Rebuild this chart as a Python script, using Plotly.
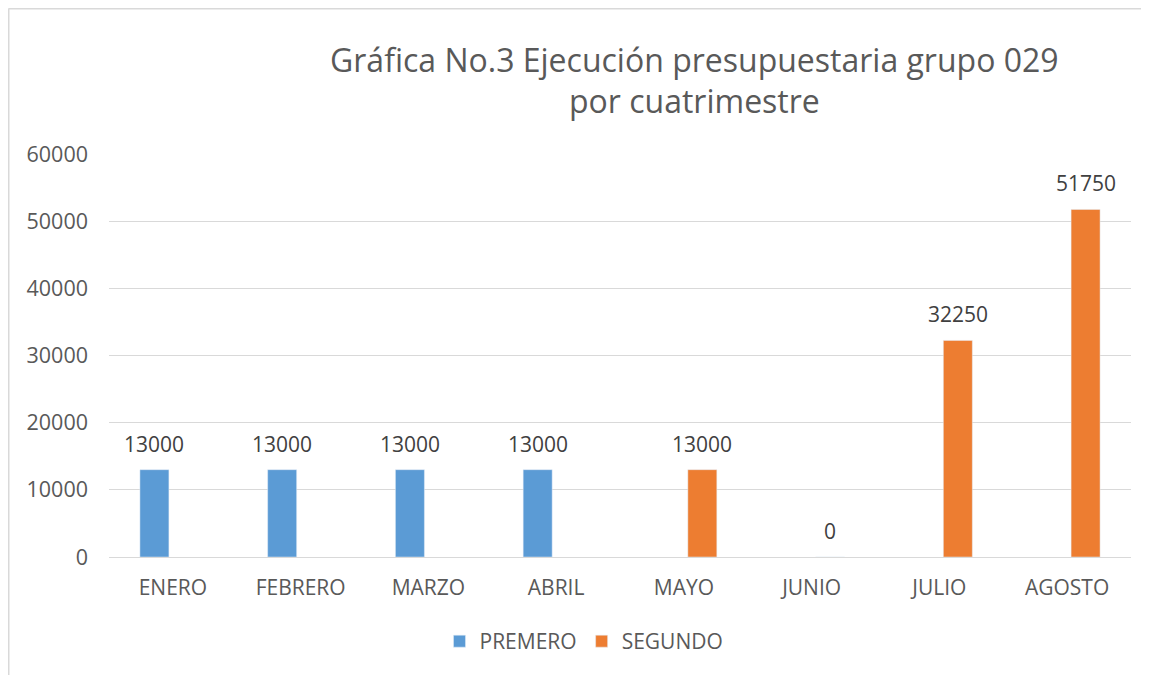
import plotly.graph_objects as go

months = ["ENERO", "FEBRERO", "MARZO", "ABRIL", "MAYO", "JUNIO", "JULIO", "AGOSTO"]
premero = [13000, 13000, 13000, 13000, None, None, None, None]
segundo = [None, None, None, None, 13000, 0, 32250, 51750]
y_ticks = [0, 10000, 20000, 30000, 40000, 50000, 60000]

title_line1 = "Gráfica No.3 Ejecución presupuestaria grupo 029"
title_line2 = "por cuatrimestre"

FONT = "Open Sans"
BLUE = "#5B9BD5"
ORANGE = "#ED7D31"
AXIS_TXT = "#595959"
LABEL_TXT = "#404040"
GRID = "#D9D9D9"

BAR_W = 0.227
OFF_BLUE = -0.258
OFF_ORANGE = 0.031

W, H = 1149, 675
PAGE_OFF = 8  # default body margin of the page
# plot area in screen pixels
PL, PR, PT, PB = 109, 1131, 154, 557
ML = PL - PAGE_OFF
MT = PT - PAGE_OFF
MR = W - (PR - PAGE_OFF)
MB = H - (PB - PAGE_OFF)
pw = PR - PL
ph = PB - PT


def px_x(px):
    return (px - PL) / pw


def px_y(py):
    return (PB - py) / ph


fig = go.Figure()
fig.add_trace(go.Bar(
    name="PREMERO", x=months, y=premero, marker_color=BLUE,
    width=BAR_W, offset=OFF_BLUE, hoverinfo="skip",
))
fig.add_trace(go.Bar(
    name="SEGUNDO", x=months, y=segundo, marker_color=ORANGE,
    width=BAR_W, offset=OFF_ORANGE, hoverinfo="skip",
))

annotations = []
for series, off in ((premero, OFF_BLUE), (segundo, OFF_ORANGE)):
    for i, v in enumerate(series):
        if v is None:
            continue
        annotations.append(dict(
            x=i + off + BAR_W / 2, y=v, xref="x", yref="y",
            text=str(v), showarrow=False, yanchor="middle", yshift=26,
            font=dict(family=FONT, size=21, color=LABEL_TXT),
        ))

annotations.append(dict(
    x=px_x(694), y=px_y(59), xref="paper", yref="paper", text=title_line1,
    showarrow=False, xanchor="center", yanchor="middle",
    font=dict(family=FONT, size=32, color=AXIS_TXT),
))
annotations.append(dict(
    x=px_x(694), y=px_y(100), xref="paper", yref="paper", text=title_line2,
    showarrow=False, xanchor="center", yanchor="middle",
    font=dict(family=FONT, size=32, color=AXIS_TXT),
))

fig.update_layout(
    width=W, height=H,
    margin=dict(l=ML, r=MR, t=MT, b=MB, autoexpand=False),
    paper_bgcolor="white", plot_bgcolor="white",
    font=dict(family=FONT, size=21, color=AXIS_TXT),
    barmode="group",
    showlegend=True,
    legend=dict(
        orientation="h", xanchor="center", yanchor="middle",
        x=px_x(584), y=px_y(641.5),
        font=dict(family=FONT, size=21, color=AXIS_TXT),
        itemwidth=30, traceorder="normal",
    ),
    annotations=annotations,
    shapes=[
        dict(type="line", xref="paper", yref="paper",
             x0=px_x(8.5), x1=px_x(8.5), y0=px_y(8.5), y1=px_y(H + 20),
             line=dict(color=GRID, width=2)),
        dict(type="line", xref="paper", yref="paper",
             x0=px_x(8.5), x1=px_x(W + 20), y0=px_y(8.5), y1=px_y(8.5),
             line=dict(color=GRID, width=2)),
    ],
)
fig.update_xaxes(
    range=[-0.5, 7.5], showgrid=False, showline=False, ticks="",
    ticklabelstandoff=16, tickfont=dict(family=FONT, size=21, color=AXIS_TXT),
)
fig.update_yaxes(
    range=[0, 60000], tickvals=y_ticks, ticktext=[str(t) for t in y_ticks],
    showgrid=True, gridcolor=GRID, gridwidth=1.3,
    zeroline=True, zerolinecolor=GRID, zerolinewidth=1.3,
    showline=False, ticks="", ticklabelstandoff=20,
    tickfont=dict(family=FONT, size=21.5, color=AXIS_TXT),
)

fig.write_html("out.html")
